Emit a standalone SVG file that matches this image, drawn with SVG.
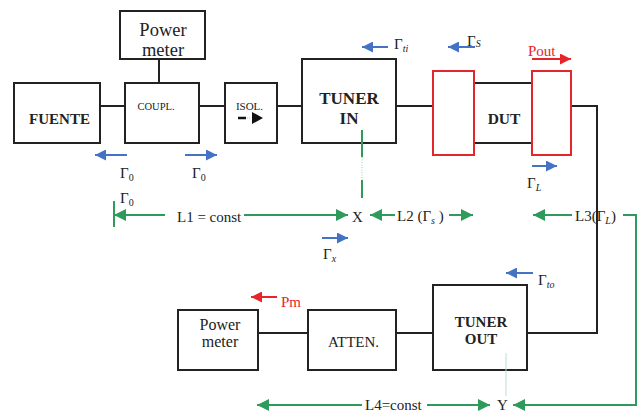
<svg xmlns="http://www.w3.org/2000/svg" width="639" height="414" viewBox="0 0 639 414">
<defs>
<style>
.box{fill:#fff;stroke:#222;stroke-width:2}
.rbox{fill:#fff;stroke:#e3262b;stroke-width:2}
.w{stroke:#222;stroke-width:2;fill:none}
.t{font-family:"Liberation Serif",serif;fill:#222}
.b{font-weight:bold}
.blue{stroke:#4472c4;stroke-width:2;fill:none}
.green{stroke:#2e9a5c;stroke-width:2;fill:none}
.red{stroke:#e8242a;stroke-width:2;fill:none}
.sub{font-size:10px}
.it{font-style:italic}
</style>
<marker id="mb" viewBox="0 0 10 10" refX="10" refY="5" markerWidth="12" markerHeight="11" orient="auto" markerUnits="userSpaceOnUse"><path d="M0,0 L10,5 L0,10 z" fill="#4472c4"/></marker>
<marker id="mg" viewBox="0 0 10 10" refX="10" refY="5" markerWidth="13" markerHeight="12" orient="auto" markerUnits="userSpaceOnUse"><path d="M0,0 L10,5 L0,10 z" fill="#2e9a5c"/></marker>
<marker id="mr" viewBox="0 0 10 10" refX="10" refY="5" markerWidth="12" markerHeight="11" orient="auto" markerUnits="userSpaceOnUse"><path d="M0,0 L10,5 L0,10 z" fill="#e8242a"/></marker>
</defs>
<rect width="639" height="414" fill="#fff"/>

<g id="connectors">
<line class="w" x1="100" y1="106" x2="125" y2="106"/>
<line class="w" x1="199" y1="106" x2="225" y2="106"/>
<line class="w" x1="277" y1="106" x2="302" y2="106"/>
<line class="w" x1="396" y1="106" x2="433" y2="106"/>
<line class="w" x1="159" y1="59" x2="159" y2="83"/>
<line class="w" x1="474" y1="83" x2="532" y2="83"/>
<line class="w" x1="474" y1="143" x2="532" y2="143"/>
<polyline class="w" points="571,106 597,106 597,333 527,333"/>
<line class="w" x1="396" y1="333" x2="433" y2="333"/>
<line class="w" x1="258" y1="333" x2="308" y2="333"/>
</g>

<g id="power-meter-top"><rect class="box" x="120" y="11" width="85" height="48"/>
<text class="t" x="163" y="36" font-size="18.5" text-anchor="middle">Power</text>
<text class="t" x="163" y="56" font-size="18.5" text-anchor="middle">meter</text></g>
<g id="fuente"><rect class="box" x="14" y="83" width="86" height="60"/>
<text class="t b" x="59.5" y="124" font-size="15" text-anchor="middle">FUENTE</text></g>
<g id="coupl"><rect class="box" x="125" y="83" width="74" height="60"/>
<text class="t" x="156" y="110" font-size="10.5" text-anchor="middle">COUPL.</text></g>
<g id="isol"><rect class="box" x="225" y="83" width="52" height="60"/>
<text class="t" x="249.5" y="110" font-size="11" text-anchor="middle">ISOL.</text>
<line x1="238" y1="118" x2="246" y2="118" stroke="#111" stroke-width="2.5"/>
<line x1="247" y1="118" x2="251" y2="118" stroke="#bbb" stroke-width="1" stroke-dasharray="1,1"/>
<path d="M252,112 L263,118 L252,124 z" fill="#111"/></g>
<g id="tuner-in"><rect class="box" x="302" y="59" width="94" height="84"/>
<text class="t b" x="349" y="104" font-size="17" text-anchor="middle">TUNER</text>
<text class="t b" x="349" y="124" font-size="17" text-anchor="middle">IN</text></g>
<g id="dut">
<rect class="rbox" x="433" y="71" width="41" height="84"/>
<rect class="rbox" x="532" y="71" width="39" height="84"/>
<text class="t b" x="504" y="124" font-size="15.5" text-anchor="middle">DUT</text></g>
<g id="power-meter-bottom"><rect class="box" x="178" y="310" width="80" height="60"/>
<text class="t" x="220" y="330" font-size="16" text-anchor="middle">Power</text>
<text class="t" x="220" y="347" font-size="16" text-anchor="middle">meter</text></g>
<g id="atten"><rect class="box" x="308" y="310" width="88" height="60"/>
<text class="t" x="353.5" y="347" font-size="15" text-anchor="middle">ATTEN.</text></g>
<g id="tuner-out"><rect class="box" x="433" y="285" width="94" height="85"/>
<text class="t b" x="481" y="327" font-size="15" text-anchor="middle">TUNER</text>
<text class="t b" x="481" y="344" font-size="15" text-anchor="middle">OUT</text></g>

<g id="reflection-arrows">
<line class="blue" x1="127" y1="155" x2="95" y2="155" marker-end="url(#mb)"/>
<line class="blue" x1="185" y1="155" x2="217" y2="155" marker-end="url(#mb)"/>
<line class="blue" x1="388" y1="47" x2="362" y2="47" marker-end="url(#mb)"/>
<line class="blue" x1="475" y1="47" x2="448" y2="47" marker-end="url(#mb)"/>
<line class="blue" x1="532" y1="166" x2="557" y2="166" marker-end="url(#mb)"/>
<line class="blue" x1="322" y1="238" x2="348" y2="238" marker-end="url(#mb)"/>
<line class="blue" x1="533" y1="273" x2="506" y2="273" marker-end="url(#mb)"/>
<line class="red" x1="532" y1="59" x2="571" y2="59" marker-end="url(#mr)"/>
<line class="red" x1="277" y1="297" x2="251" y2="297" marker-end="url(#mr)"/>
<text class="t" x="120" y="178" font-size="15">Γ<tspan class="sub" dy="3">0</tspan></text>
<text class="t" x="192" y="178" font-size="15">Γ<tspan class="sub" dy="3">0</tspan></text>
<text class="t" x="120" y="203" font-size="15">Γ<tspan class="sub" dy="3">0</tspan></text>
<text class="t" x="394" y="49" font-size="15">Γ<tspan class="sub it" dy="3">ti</tspan></text>
<text class="t" x="467" y="46" font-size="15">Γ<tspan class="sub it" dy="1">S</tspan></text>
<text class="t" x="527" y="188" font-size="15">Γ<tspan class="sub it" dy="3">L</tspan></text>
<text class="t" x="323" y="259" font-size="15">Γ<tspan class="sub it" dy="3">x</tspan></text>
<text class="t" x="538" y="285" font-size="15">Γ<tspan class="sub it" dy="3">to</tspan></text>
<text class="t" x="528" y="56" font-size="15" style="fill:#e8242a">Pout</text>
<text class="t" x="281" y="307" font-size="15" style="fill:#e8242a">Pm</text>
</g>

<g id="reference-planes">
<line class="green" x1="362" y1="130" x2="362" y2="157"/>
<line x1="362" y1="157" x2="362" y2="180" stroke="#bfe0d0" stroke-width="1.5" stroke-dasharray="1,1.5"/>
<line class="green" x1="362" y1="180" x2="362" y2="198"/>
<line x1="506" y1="353" x2="506" y2="396" stroke="#bcdcd6" stroke-width="1"/>
<line class="green" x1="114" y1="201" x2="114" y2="227"/>
<line class="green" x1="165" y1="215" x2="114" y2="215" marker-end="url(#mg)"/>
<line class="green" x1="244" y1="215" x2="348" y2="215" marker-end="url(#mg)"/>
<line class="green" x1="395" y1="215" x2="370" y2="215" marker-end="url(#mg)"/>
<line class="green" x1="449" y1="215" x2="473" y2="215" marker-end="url(#mg)"/>
<line class="green" x1="572" y1="215" x2="533" y2="215" marker-end="url(#mg)"/>
<polyline class="green" points="623,215 636,215 636,405 513,405" marker-end="url(#mg)"/>
<line class="green" x1="362" y1="405" x2="257" y2="405" marker-end="url(#mg)"/>
<line class="green" x1="427" y1="405" x2="490" y2="405" marker-end="url(#mg)"/>
<text class="t" x="177" y="222" font-size="15">L1 = const</text>
<text class="t" x="352" y="222" font-size="15">X</text>
<text class="t" x="397" y="221" font-size="15">L2 (Γ<tspan class="sub it" dy="3">s</tspan><tspan dy="-3"> )</tspan></text>
<text class="t" x="575" y="221" font-size="15">L3(Γ<tspan class="sub it" dy="3">L</tspan><tspan dy="-3">)</tspan></text>
<text class="t" x="365" y="410" font-size="15">L4=const</text>
<text class="t" x="497" y="410" font-size="15">Y</text>
</g>
</svg>
